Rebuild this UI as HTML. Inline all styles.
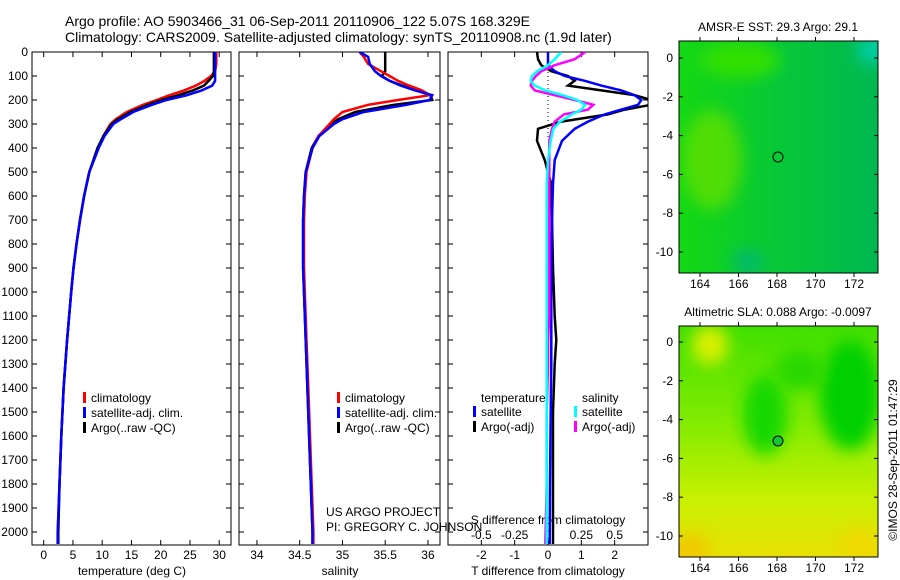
<!DOCTYPE html>
<html><head><meta charset="utf-8"><style>
body{margin:0;background:#fff;}
svg{display:block;font-family:"Liberation Sans",sans-serif;}
</style></head><body>
<svg id="c" width="900" height="580" viewBox="0 0 900 580" xmlns="http://www.w3.org/2000/svg">
<defs>
<filter id="bl" x="-50%" y="-50%" width="200%" height="200%"><feGaussianBlur stdDeviation="8"/></filter>
<clipPath id="cm1"><rect x="679" y="41" width="199" height="232"/></clipPath>
<clipPath id="cm2"><rect x="679" y="326" width="199" height="231"/></clipPath>
<clipPath id="cp1"><rect x="32" y="52" width="199" height="493"/></clipPath>
<clipPath id="cp2"><rect x="239" y="52" width="201" height="493"/></clipPath>
<clipPath id="cp3"><rect x="448" y="52" width="200" height="493"/></clipPath>
<linearGradient id="g1" x1="0" x2="1" y1="0" y2="0"><stop offset="0" stop-color="#14d814"/><stop offset="0.5" stop-color="#06c838"/><stop offset="1" stop-color="#00b850"/></linearGradient>
<linearGradient id="g2" x1="0" x2="0" y1="0" y2="1"><stop offset="0" stop-color="#40e000"/><stop offset="0.45" stop-color="#88ec00"/><stop offset="0.75" stop-color="#c8f000"/><stop offset="1" stop-color="#e8e000"/></linearGradient>
</defs>
<text x="65" y="26" font-size="14">Argo profile: AO 5903466_31 06-Sep-2011 20110906_122 5.07S 168.329E</text>
<text x="65" y="42" font-size="14">Climatology: CARS2009. Satellite-adjusted climatology: synTS_20110908.nc (1.9d later)</text>
<g id="p1"></g>
<g id="p2"></g>
<g id="p3"></g>
<g id="m1">
 <g clip-path="url(#cm1)">
  <rect x="679" y="41" width="199" height="232" fill="url(#g1)"/>
  <ellipse cx="712" cy="160" rx="30" ry="50" fill="#60e000" filter="url(#bl)" opacity="0.8"/>
  <ellipse cx="740" cy="60" rx="40" ry="18" fill="#30e000" filter="url(#bl)"/>
  <ellipse cx="872" cy="50" rx="14" ry="14" fill="#00d0b0" filter="url(#bl)"/>
  <ellipse cx="748" cy="262" rx="16" ry="12" fill="#00b870" filter="url(#bl)"/>
 </g>
 <rect x="679" y="41" width="199" height="232" fill="none" stroke="#000"/>
 <circle cx="778" cy="157" r="5" fill="none" stroke="#000"/>
 <text x="778" y="31" font-size="12" text-anchor="middle">AMSR-E SST: 29.3 Argo: 29.1</text>
</g>
<g id="m2">
 <g clip-path="url(#cm2)">
  <rect x="679" y="326" width="199" height="231" fill="url(#g2)"/>
  <ellipse cx="710" cy="345" rx="18" ry="20" fill="#d8f000" filter="url(#bl)"/>
  <ellipse cx="765" cy="415" rx="22" ry="40" fill="#18d800" filter="url(#bl)"/>
  <ellipse cx="850" cy="395" rx="30" ry="55" fill="#00d000" filter="url(#bl)"/>
  <ellipse cx="800" cy="370" rx="25" ry="20" fill="#28d800" filter="url(#bl)"/>
  <ellipse cx="690" cy="550" rx="20" ry="15" fill="#f0c800" filter="url(#bl)"/>
  <ellipse cx="860" cy="545" rx="20" ry="15" fill="#f0d800" filter="url(#bl)"/>
 </g>
 <rect x="679" y="326" width="199" height="231" fill="none" stroke="#000"/>
 <circle cx="778" cy="441" r="5" fill="#10c830" stroke="#000"/>
 <text x="778" y="316" font-size="12" text-anchor="middle">Altimetric SLA: 0.088 Argo: -0.0097</text>
</g>
<text transform="translate(897,460) rotate(-90)" font-size="12" text-anchor="middle">©IMOS 28-Sep-2011 01:47:29</text>
<text x="326" y="516" font-size="12">US ARGO PROJECT</text>
<text x="326" y="531" font-size="12">PI: GREGORY C. JOHNSON</text>
</svg>
<script>
const depths=[0,20,50,80,100,120,140,160,180,200,220,250,280,300,350,400,500,600,700,800,900,1000,1200,1400,1600,1800,2000,2050];
const tempClim=[29.5,29.5,29.5,29.3,28.6,27.5,26.0,24.0,21.5,19.3,17.0,14.2,12.3,11.4,10.2,9.3,7.8,6.9,6.2,5.6,5.1,4.7,4.0,3.4,3.0,2.7,2.4,2.4];
const tempSat=[29.3,29.3,29.3,29.3,29.3,29.3,28.8,27.0,24.5,21.0,18.5,15.3,13.2,11.9,10.4,9.4,7.8,6.9,6.2,5.6,5.1,4.7,4.0,3.4,3.0,2.7,2.4,2.4];
const tempArgo=[29.1,29.1,29.1,29.1,28.9,28.2,27.4,25.5,23.0,20.2,17.8,14.8,12.7,11.6,10.2,9.2,7.8,6.9,6.2,5.6,5.1,4.7,4.0,3.4,3.0,2.7,2.5,2.5];
const salClim=[35.2,35.25,35.3,35.45,35.55,35.65,35.78,35.93,36.02,35.65,35.3,35.0,34.9,34.85,34.72,34.65,34.58,34.56,34.55,34.55,34.55,34.56,34.58,34.6,34.62,34.64,34.66,34.66];
const salSat=[35.2,35.3,35.32,35.38,35.45,35.55,35.68,35.85,36.05,36.02,35.75,35.25,35.0,34.9,34.73,34.65,34.57,34.55,34.54,34.54,34.54,34.55,34.57,34.59,34.61,34.63,34.65,34.65];
const salArgo=[35.5,35.5,35.5,35.5,35.46,35.55,35.7,35.87,36.03,36.05,35.6,35.15,34.95,34.87,34.72,34.64,34.57,34.55,34.54,34.54,34.54,34.55,34.57,34.59,34.61,34.63,34.65,34.65];
const dDepths=[0,30,55,80,100,120,140,160,180,200,220,240,260,290,320,370,450,550,700,900,1100,1200,1300,1500,1800,2050];
const dTempSat=[0,0,0,0.2,0.5,1.1,1.6,2.2,2.6,2.8,2.7,2.2,1.7,1.2,0.8,0.42,0.2,0.15,0.12,0.1,0.1,0.1,0.1,0.08,0.06,0.05];
const dTempArgo=[-0.33,-0.3,-0.2,0.1,0.6,0.8,0.6,1.6,2.6,3.1,3.1,2.3,1.8,0.4,-0.3,-0.33,-0.1,0.1,0.12,0.15,0.2,0.25,0.2,0.15,0.15,0.15];
const dSalArgo=[0.28,0.2,0.05,-0.05,-0.09,-0.12,-0.13,-0.1,0.05,0.2,0.34,0.3,0.12,0.05,0.03,0.01,0.01,0.01,0.01,0.01,0.01,0,0,-0.01,-0.01,-0.02];
const dSalSat=[0.1,0.05,0,-0.08,-0.12,-0.13,-0.1,-0.02,0.11,0.22,0.28,0.25,0.18,0.09,0.04,0.02,0,-0.01,-0.01,-0.01,-0.01,-0.01,-0.01,-0.01,-0.01,-0.01];
const depthTicks=[0,100,200,300,400,500,600,700,800,900,1000,1100,1200,1300,1400,1500,1600,1700,1800,1900,2000];
const tempTicks=[0,5,10,15,20,25,30];
const salTicks=[34,34.5,35,35.5,36];
const salTickLabels=["34","34.5","35","35.5","36"];
const dTTicks=[-2,-1,0,1,2];
const dSTicks=[-0.5,-0.25,0,0.25,0.5];
const dSTickLabels=["-0.5","-0.25","0","0.25","0.5"];
const latTicks=[0,-2,-4,-6,-8,-10];
const lonTicks=[164,166,168,170,172];

const NS="http://www.w3.org/2000/svg";
function mk(parent,tag,attrs,txt){const e=document.createElementNS(NS,tag);for(const k in attrs)e.setAttribute(k,attrs[k]);if(txt!==undefined)e.textContent=txt;parent.appendChild(e);return e;}
const yD=d=>52+d*0.24;
const xT=t=>32+(t+2)*5.85;
const xS=s=>239+(s-33.79)*85.5;
const xDT=t=>548+t*33.33;
const xDS=s=>548+s*133.33;

function panel(g,x0,w){
  mk(g,'rect',{x:x0,y:52,width:w,height:493,fill:'none',stroke:'#000'});
  depthTicks.forEach(d=>{const y=yD(d);mk(g,'line',{x1:x0,x2:x0+5,y1:y,y2:y,stroke:'#000'});mk(g,'line',{x1:x0+w-5,x2:x0+w,y1:y,y2:y,stroke:'#000'});});
}
function xtick(g,x,label,ly){
  mk(g,'line',{x1:x,x2:x,y1:52,y2:57,stroke:'#000'});
  mk(g,'line',{x1:x,x2:x,y1:540,y2:545,stroke:'#000'});
  const t=mk(g,'text',{x:x,y:ly,'font-size':12,'text-anchor':'middle'},label);
  
  
}
function line(g,xs,ys,xf,color,name,clip){
  const pts=xs.map((v,i)=>xf(v).toFixed(1)+','+yD(ys[i]).toFixed(1)).join(' ');
  const p=mk(g,'polyline',{points:pts,fill:'none',stroke:color,'stroke-width':2.5,'clip-path':clip});
  
  
}
function legend(g,x,y,items){
  items.forEach((it,i)=>{
    mk(g,'rect',{x:x,y:y+i*15-10,width:3,height:11,fill:it[1]});
    const t=mk(g,'text',{x:x+8,y:y+i*15,'font-size':12},it[0]);
    
    
  });
}
const p1=document.getElementById('p1'),p2=document.getElementById('p2'),p3=document.getElementById('p3');
panel(p1,32,199);panel(p2,239,201);panel(p3,448,200);
depthTicks.forEach(d=>{const t=mk(p1,'text',{x:28,y:yD(d)+4,'font-size':12,'text-anchor':'end'},String(d));
 
 });
tempTicks.forEach(v=>xtick(p1,xT(v),String(v),559));
salTicks.forEach((v,i)=>xtick(p2,xS(v),salTickLabels[i],559));
dTTicks.forEach(v=>xtick(p3,xDT(v),String(v),559));
dSTicks.forEach((v,i)=>{const t=mk(p3,'text',{x:xDS(v),y:539,'font-size':12,'text-anchor':'middle'},dSTickLabels[i]);
 
 });
let t1=mk(p1,'text',{x:132,y:575,'font-size':12,'text-anchor':'middle'},'temperature (deg C)');


let t2=mk(p2,'text',{x:340,y:575,'font-size':12,'text-anchor':'middle'},'salinity');


let t3=mk(p3,'text',{x:548,y:575,'font-size':12,'text-anchor':'middle'},'T difference from climatology');


let t4=mk(p3,'text',{x:548,y:524,'font-size':12,'text-anchor':'middle'},'S difference from climatology');


mk(p3,'line',{x1:548,x2:548,y1:52,y2:140,stroke:'#000','stroke-dasharray':'1,3'});

line(p1,tempClim,depths,xT,'#ff0000','temp-climatology','url(#cp1)');
line(p1,tempArgo,depths,xT,'#000000','temp-argo','url(#cp1)');
line(p1,tempSat,depths,xT,'#0000ff','temp-satellite','url(#cp1)');
line(p2,salArgo,depths,xS,'#000000','sal-argo','url(#cp2)');
line(p2,salClim,depths,xS,'#ff0000','sal-climatology','url(#cp2)');
line(p2,salSat,depths,xS,'#0000ff','sal-satellite','url(#cp2)');
line(p3,dTempArgo,dDepths,xDT,'#000000','dtemp-argo','url(#cp3)');
line(p3,dTempSat,dDepths,xDT,'#0000ff','dtemp-satellite','url(#cp3)');
line(p3,dSalArgo,dDepths,xDS,'#ff00ff','dsal-argo','url(#cp3)');
line(p3,dSalSat,dDepths,xDS,'#00ffff','dsal-satellite','url(#cp3)');

legend(p1,83,402,[['climatology','#ff0000'],['satellite-adj. clim.','#0000ff'],['Argo(..raw -QC)','#000000']]);
legend(p2,337,402,[['climatology','#ff0000'],['satellite-adj. clim.','#0000ff'],['Argo(..raw -QC)','#000000']]);
let lt=mk(p3,'text',{x:481,y:402,'font-size':12},'temperature');


let ls=mk(p3,'text',{x:582,y:402,'font-size':12},'salinity');


legend(p3,473,416,[['satellite','#0000ff'],['Argo(-adj)','#000000']]);
legend(p3,574,416,[['satellite','#00ffff'],['Argo(-adj)','#ff00ff']]);

function mapAxes(id,top,bot,lat0){
  const g=document.getElementById(id);
  latTicks.forEach(v=>{const y=lat0+(-v)*19.4;
   mk(g,'line',{x1:679,x2:683,y1:y,y2:y,stroke:'#000'});mk(g,'line',{x1:874,x2:878,y1:y,y2:y,stroke:'#000'});
   const t=mk(g,'text',{x:673,y:y+4,'font-size':12,'text-anchor':'end'},String(v));
   
   });
  lonTicks.forEach(v=>{const x=700+(v-164)*19.25;
   mk(g,'line',{x1:x,x2:x,y1:top-4,y2:top,stroke:'#000'});mk(g,'line',{x1:x,x2:x,y1:bot,y2:bot+4,stroke:'#000'});
   const t=mk(g,'text',{x:x,y:bot+15,'font-size':12,'text-anchor':'middle'},String(v));
   
   });
}
mapAxes('m1',41,273,58);
mapAxes('m2',326,557,342);
</script>
</body></html>
